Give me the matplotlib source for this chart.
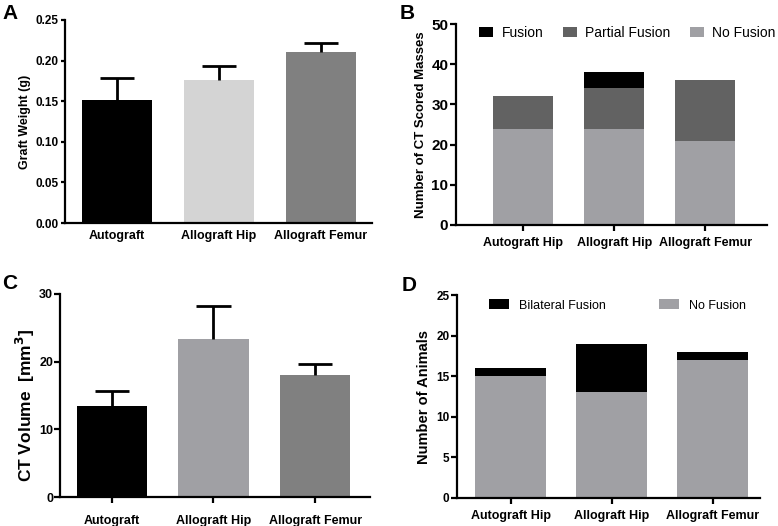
import numpy as np
import matplotlib
matplotlib.use('Agg')
import matplotlib.pyplot as plt

plt.rcParams['font.family'] = ['Liberation Sans', 'DejaVu Sans']
plt.rcParams['font.weight'] = 'bold'

# panel A - graft weight
a_groups = ['Autograft', 'Allograft Hip', 'Allograft Femur']
a_means = [0.152, 0.176, 0.210]
a_err = [0.026, 0.017, 0.012]

# panel B - CT scored masses
b_groups = ['Autograft Hip', 'Allograft Hip', 'Allograft Femur']
b_none = [24, 24, 21]
b_partial = [8, 10, 15]
b_fusion = [0, 4, 0]

# panel C - CT volume
c_groups = ['Autograft', 'Allograft Hip', 'Allograft Femur']
c_means = [13.4, 23.3, 18.1]
c_err = [2.2, 4.9, 1.6]

# panel D - animals
d_groups = ['Autograft Hip', 'Allograft Hip', 'Allograft Femur']
d_none = [15, 13, 17]
d_bilat = [1, 6, 1]

W, H = 778, 526
fig = plt.figure(figsize=(W / 100, H / 100), dpi=100)


def axes_px(x0, x1, y0, y1):
    """add axes from pixel box (left, right, top, bottom)"""
    return fig.add_axes([x0 / W, 1 - y1 / H, (x1 - x0) / W, (y1 - y0) / H])


def style(ax, xticks=True):
    for s in ['top', 'right']:
        ax.spines[s].set_visible(False)
    for s in ['left', 'bottom']:
        ax.spines[s].set_linewidth(1.6)
    ax.tick_params(axis='y', width=1.6, length=4, pad=1.5, labelsize=8.5)
    ax.tick_params(axis='x', width=1.6, length=4 if xticks else 0, labelsize=9, pad=5)
    for lab in ax.get_xticklabels() + ax.get_yticklabels():
        lab.set_fontweight('bold')


def upper_err(ax, xs, means, errs, half=0.17):
    # one-sided (upper) error bars, like GraphPad
    tops = np.add(means, errs)
    ax.vlines(xs, means, tops, color='black', lw=2, zorder=3)
    ax.hlines(tops, xs - half, xs + half, color='black', lw=2, zorder=3)


x = np.arange(3)

# A
ax = axes_px(65, 372, 20, 223)
ax.bar(x, a_means, width=0.69, color=['#000000', '#d4d4d4', '#808080'])
upper_err(ax, x, a_means, a_err)
ax.set_xlim(-0.51, 2.5)
ax.set_ylim(0, 0.25)
ax.set_yticks(np.arange(0, 0.26, 0.05))
ax.set_yticklabels(['%.2f' % v for v in np.arange(0, 0.26, 0.05)])
ax.set_xticks(x)
ax.set_xticklabels(a_groups)
ax.set_ylabel('Graft Weight (g)', fontsize=9, fontweight='bold', labelpad=3)
style(ax, xticks=False)
ax.tick_params(axis='y', length=3)

# B
ax = axes_px(456, 767, 24, 225)
nf = '#a0a0a4'
pf = '#626262'
ax.bar(x, b_none, width=0.66, color=nf, label='No Fusion')
ax.bar(x, b_partial, width=0.66, bottom=b_none, color=pf, label='Partial Fusion')
ax.bar(x, b_fusion, width=0.66, bottom=np.add(b_none, b_partial), color='black', label='Fusion')
ax.set_xlim(-0.74, 2.68)
ax.set_ylim(0, 50)
ax.set_yticks(range(0, 51, 10))
ax.set_xticks(x)
ax.set_xticklabels(b_groups)
ax.set_ylabel('Number of CT Scored Masses', fontsize=9.5, fontweight='bold', labelpad=3)
h, l = ax.get_legend_handles_labels()
leg = ax.legend(h[::-1], l[::-1], ncol=3, frameon=False, loc='upper left',
                bbox_to_anchor=(0.075, 0.99), fontsize=10, handlelength=1.0,
                handleheight=0.8, columnspacing=1.4, handletextpad=0.6,
                borderpad=0, borderaxespad=0)
for t in leg.get_texts():
    t.set_fontweight('normal')
style(ax)
ax.tick_params(axis='y', labelsize=11)

# C
ax = axes_px(60, 370, 294, 497)
ax.bar(x, c_means, width=0.69, color=['#000000', '#a0a0a4', '#808080'])
upper_err(ax, x, c_means, c_err)
ax.set_xlim(-0.51, 2.54)
ax.set_ylim(0, 30)
ax.set_yticks(range(0, 31, 10))
ax.set_xticks(x)
ax.set_xticklabels(c_groups)
ax.set_ylabel('CT Volume  [mm$^\\mathbf{3}$]', fontsize=12.5, fontweight='bold')
ax.yaxis.set_label_coords(-0.075, 0.45)
style(ax)
ax.tick_params(axis='y', labelsize=9, pad=1)
ax.tick_params(axis='x', pad=9)

# D
ax = axes_px(457, 760, 295, 498)
ax.bar(x, d_none, width=0.70, color=nf, label='No Fusion')
ax.bar(x, d_bilat, width=0.70, bottom=d_none, color='black', label='Bilateral Fusion')
ax.set_xlim(-0.53, 2.47)
ax.set_ylim(0, 25)
ax.set_yticks(range(0, 26, 5))
ax.set_xticks(x)
ax.set_xticklabels(d_groups)
ax.set_ylabel('Number of Animals', fontsize=10.5, fontweight='bold', labelpad=4)
h, l = ax.get_legend_handles_labels()
leg = ax.legend(h[::-1], l[::-1], ncol=2, frameon=False, loc='upper left',
                bbox_to_anchor=(0.105, 0.98), fontsize=9, handlelength=1.6,
                handleheight=0.9, columnspacing=4.3, handletextpad=0.8,
                borderpad=0, borderaxespad=0)
for t in leg.get_texts():
    t.set_fontweight('normal')
style(ax)

# panel letters
for lbl, px, py in [('A', 2, 4), ('B', 400, 4), ('C', 2, 274), ('D', 402, 276)]:
    fig.text(px / W, 1 - py / H, lbl, fontsize=15, fontweight='bold', va='top', ha='left')

fig.savefig('out.png', dpi=100)
